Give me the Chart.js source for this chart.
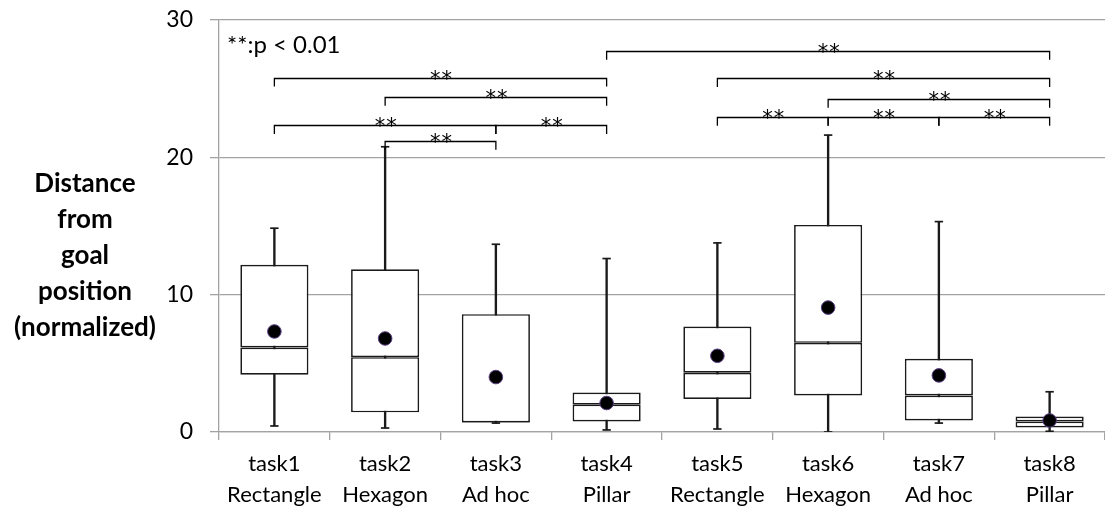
<!DOCTYPE html>
<html>
<head>
<meta charset="utf-8">
<script src="https://cdn.jsdelivr.net/npm/chart.js@4.4.1/dist/chart.umd.min.js"></script>
<style>
  html, body { margin: 0; padding: 0; background: #fff; }
  #wrap { width: 1105px; height: 512px; position: relative; }
</style>
</head>
<body>
<div id="wrap"><canvas id="c"></canvas></div>
<script>
// Categories (two-line axis labels)
const taskLabels = [
  ['task1', 'Rectangle'], ['task2', 'Hexagon'], ['task3', 'Ad hoc'], ['task4', 'Pillar'],
  ['task5', 'Rectangle'], ['task6', 'Hexagon'], ['task7', 'Ad hoc'], ['task8', 'Pillar']
];

// Box-plot statistics per task
const whiskerMin = [0.44, 0.29, 0.65, 0.15, 0.22, 0.00, 0.65, 0.05];
const quartile1  = [4.17, 1.43, 0.65, 0.77, 2.40, 2.66, 0.84, 0.33];
const median     = [6.15, 5.45, 0.70, 1.99, 4.31, 6.49, 2.66, 0.77];
const quartile3  = [12.17, 11.85, 8.58, 2.88, 7.68, 15.08, 5.33, 1.13];
const whiskerMax = [14.84, 20.77, 13.67, 12.63, 13.77, 21.62, 15.32, 2.93];
const meanValue  = [7.32, 6.81, 4.00, 2.11, 5.55, 9.06, 4.12, 0.84];

// Significance brackets: task index pairs and bracket height
const bracketFrom  = [0, 1, 0, 2, 1, 3, 4, 5, 4, 5, 6];
const bracketTo    = [3, 3, 2, 3, 2, 7, 7, 7, 5, 6, 7];
const bracketLevel = [25.8, 24.4, 22.35, 22.35, 21.2, 27.75, 25.77, 24.26, 22.95, 22.95, 22.95];
const sigMark = '**';
const sigNote = '**:p < 0.01';

// Axis
const yTicks = [0, 10, 20, 30];
const yTitleLines = ['Distance', 'from', 'goal', 'position', '(normalized)'];

const GRID = '#a3a3a3';
const INK = '#1a1a1a';

const lowerBox = quartile1.map((q, i) => [q, median[i]]);
const upperBox = median.map((m, i) => [m, quartile3[i]]);
const whiskers = whiskerMin.map((m, i) => [m, whiskerMax[i]]);

// Brackets, note and vertical axis title
const annotations = {
  id: 'annotations',
  afterDatasetsDraw(chart) {
    const { ctx, scales: { x, y } } = chart;
    const legDrop = 0.65;
    ctx.save();
    ctx.strokeStyle = '#000';
    ctx.fillStyle = '#000';
    ctx.lineWidth = 1.3;
    ctx.font = '21px "DejaVu Sans"';
    ctx.textAlign = 'center';
    ctx.textBaseline = 'alphabetic';
    ctx.letterSpacing = '1px';
    for (let k = 0; k < bracketFrom.length; k++) {
      const x1 = x.getPixelForValue(bracketFrom[k]);
      const x2 = x.getPixelForValue(bracketTo[k]);
      const yl = Math.round(y.getPixelForValue(bracketLevel[k])) + 0.5;
      const yd = y.getPixelForValue(bracketLevel[k] - legDrop);
      ctx.beginPath();
      ctx.moveTo(x1, yd);
      ctx.lineTo(x1, yl);
      ctx.lineTo(x2, yl);
      ctx.lineTo(x2, yd);
      ctx.stroke();
      ctx.fillText(sigMark, (x1 + x2) / 2 + 1, yl + 7);
    }
    ctx.letterSpacing = '0px';
    ctx.font = '24px Lato';
    ctx.textAlign = 'left';
    ctx.textBaseline = 'middle';
    ctx.fillText(sigNote, chart.chartArea.left + 8, 45);
    ctx.restore();
  },
  afterDraw(chart) {
    const { ctx } = chart;
    ctx.save();
    ctx.fillStyle = '#000';
    ctx.font = 'bold 26px Lato';
    ctx.textAlign = 'center';
    ctx.textBaseline = 'middle';
    yTitleLines.forEach((t, i) => ctx.fillText(t, 85, 184 + i * 35.8));
    ctx.restore();
  }
};

new Chart(document.getElementById('c'), {
  data: {
    labels: taskLabels,
    datasets: [
      {
        type: 'line', label: 'mean', data: meanValue, showLine: false,
        pointStyle: 'circle', pointRadius: 6.8, pointHoverRadius: 6.8,
        pointBackgroundColor: '#000', pointBorderColor: '#5a3f85', pointBorderWidth: 1
      },
      {
        type: 'bar', label: 'upper', data: upperBox, grouped: false,
        backgroundColor: '#fff', borderColor: INK, borderWidth: 1.7, borderSkipped: false,
        categoryPercentage: 1, barPercentage: 0.615
      },
      {
        type: 'bar', label: 'lower', data: lowerBox, grouped: false,
        backgroundColor: '#fff', borderColor: INK, borderWidth: 1.7, borderSkipped: false,
        categoryPercentage: 1, barPercentage: 0.615
      },
      {
        type: 'line', label: 'max cap', data: whiskerMax, showLine: false,
        pointStyle: 'line', pointRadius: 4.2, pointBorderColor: INK, pointBorderWidth: 1.7
      },
      {
        type: 'line', label: 'min cap', data: whiskerMin, showLine: false,
        pointStyle: 'line', pointRadius: 4.2, pointBorderColor: INK, pointBorderWidth: 1.7
      },
      {
        type: 'bar', label: 'whisker', data: whiskers, grouped: false,
        backgroundColor: INK, borderWidth: 0, barThickness: 1.7
      }
    ]
  },
  options: {
    responsive: true,
    maintainAspectRatio: false,
    animation: false,
    events: [],
    layout: { autoPadding: false, padding: { top: 20, right: 0, bottom: 0, left: 0 } },
    plugins: { legend: { display: false }, tooltip: { enabled: false } },
    scales: {
      x: {
        type: 'category',
        offset: true,
        grid: { display: true, offset: true, drawOnChartArea: false, color: GRID, lineWidth: 1.3, tickLength: 8 },
        border: { display: true, color: GRID, width: 1.3 },
        ticks: { color: '#000', font: { family: 'Lato', size: 22, lineHeight: 1.42 }, padding: 8, maxRotation: 0, autoSkip: false },
        afterFit(s) { s.height = 80; }
      },
      y: {
        min: 0, max: 30,
        afterBuildTicks(s) { s.ticks = yTicks.map(v => ({ value: v })); },
        grid: { color: GRID, lineWidth: 1.3, tickLength: 9 },
        border: { display: true, color: GRID, width: 1.3 },
        ticks: { color: '#000', font: { family: 'Lato', size: 23 }, padding: 17 },
        afterFit(s) { s.width = 219; s.paddingTop = 0; s.paddingBottom = 0; }
      }
    }
  },
  plugins: [annotations]
});
</script>
</body>
</html>
